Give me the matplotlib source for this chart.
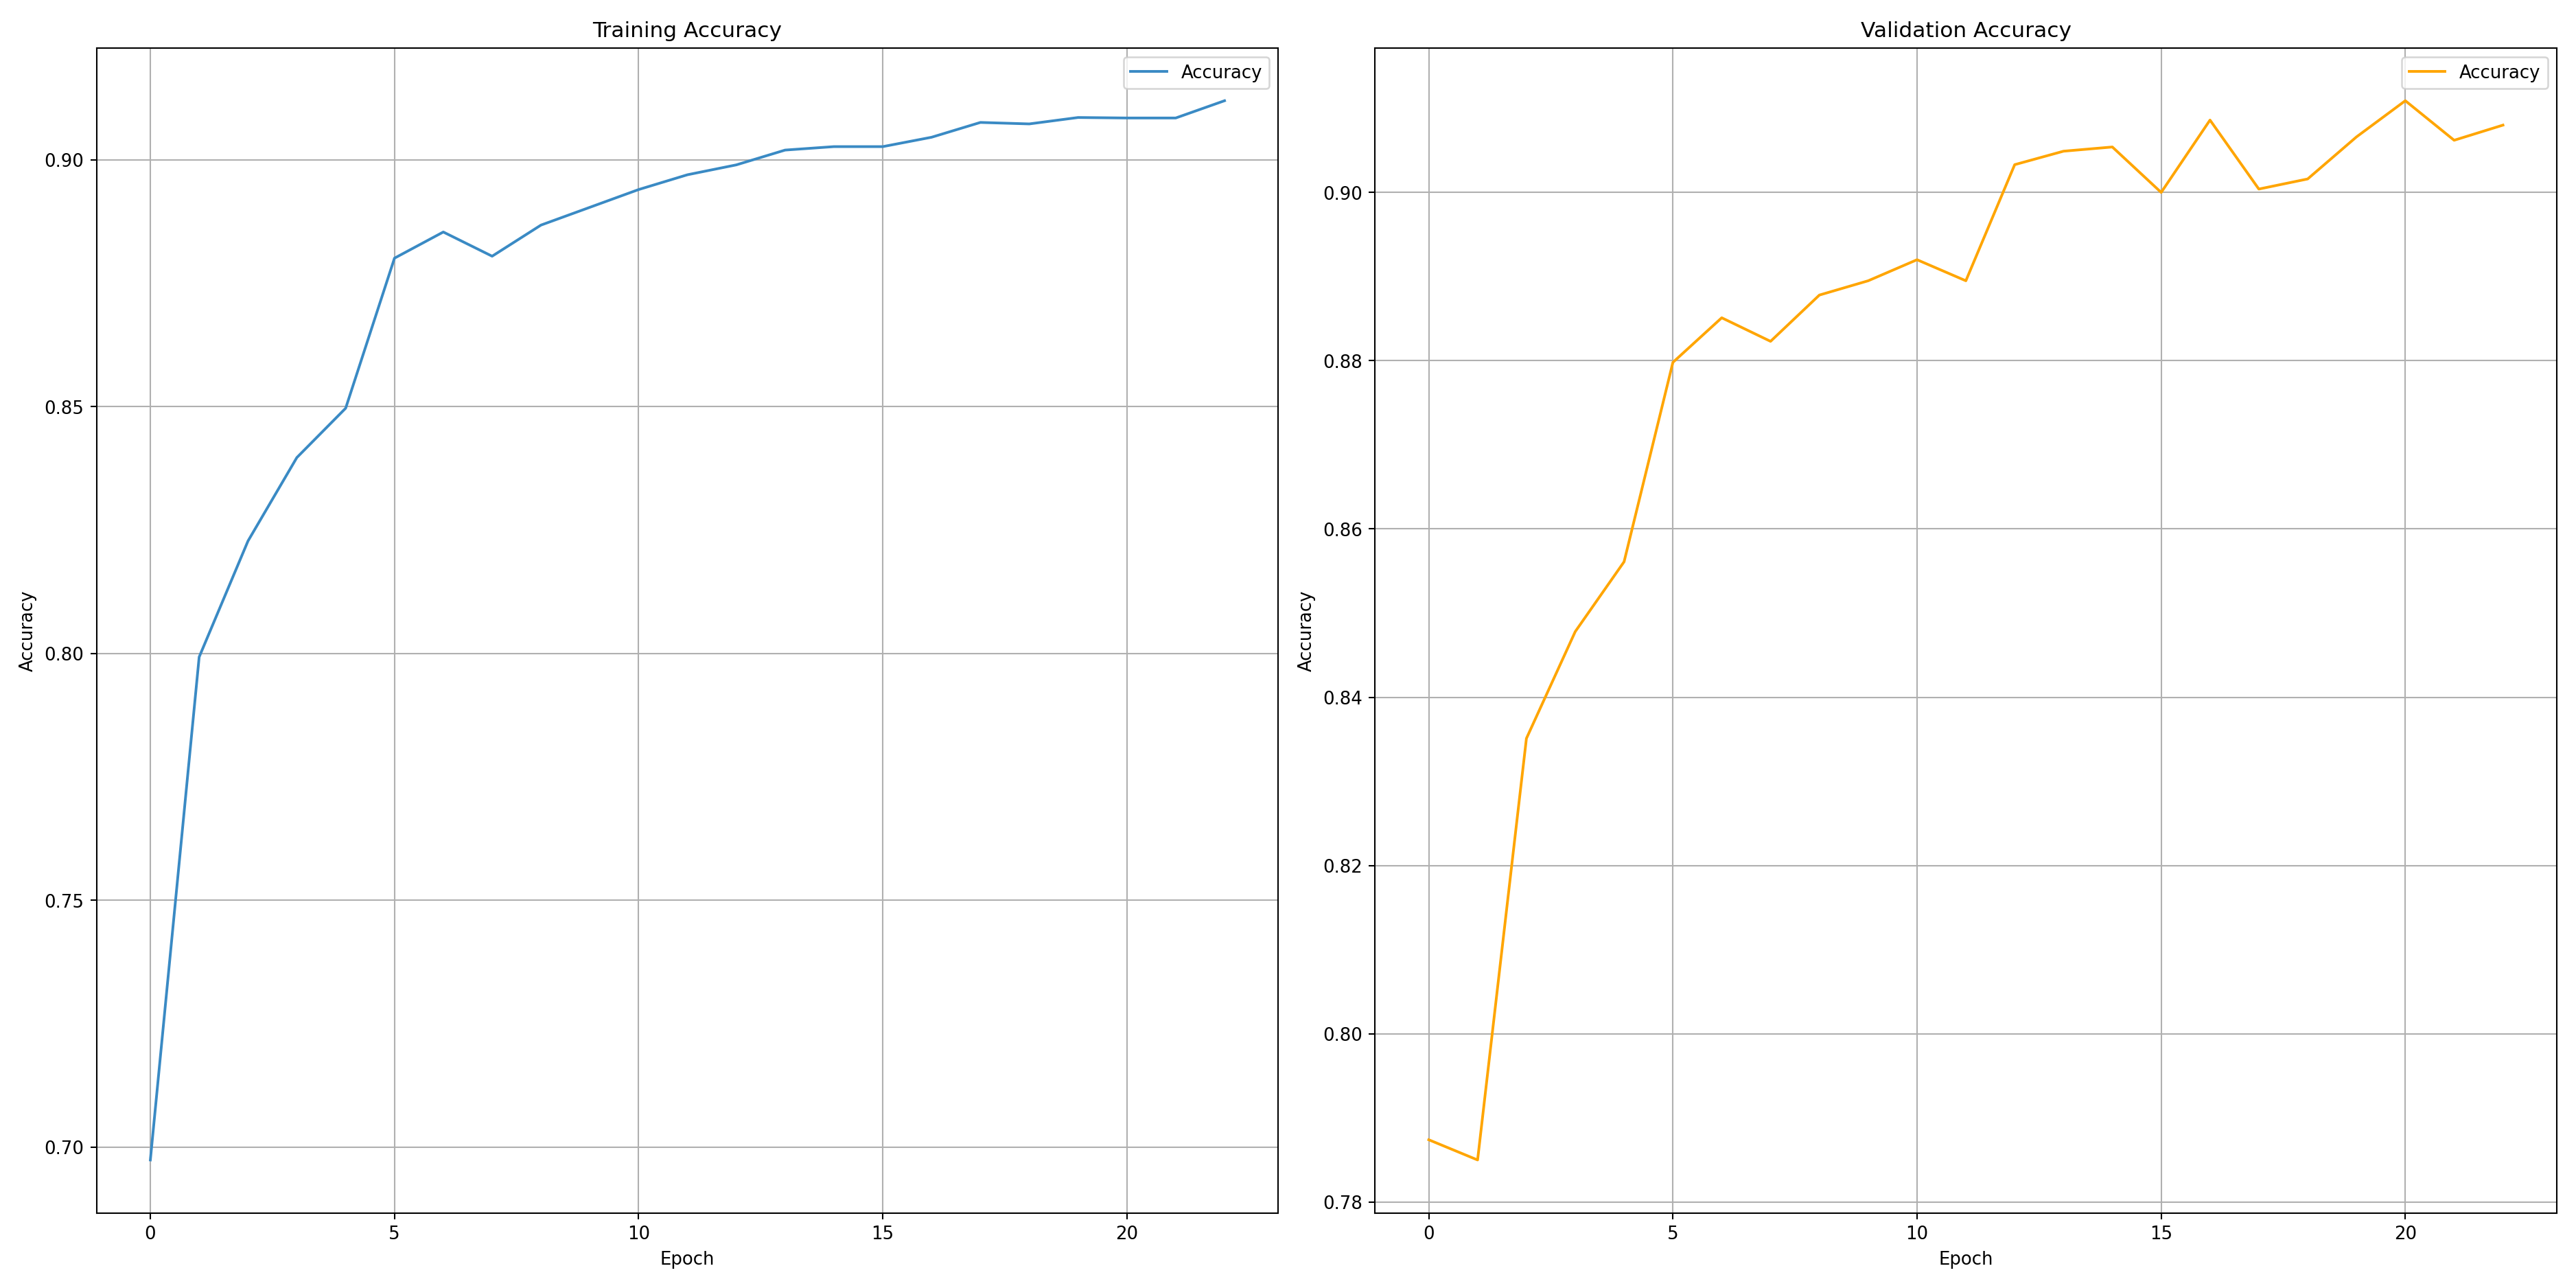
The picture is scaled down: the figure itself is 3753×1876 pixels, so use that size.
import matplotlib
matplotlib.use('Agg')
import matplotlib.pyplot as plt

epochs = list(range(23))
train_acc = [0.6974, 0.7993, 0.8228, 0.8397, 0.8497, 0.8801, 0.8854, 0.8805, 0.8868,
             0.8904, 0.8940, 0.8970, 0.8990, 0.9020, 0.9027, 0.9027, 0.9046, 0.9076,
             0.9073, 0.9086, 0.9085, 0.9085, 0.9120]
val_acc = [0.7874, 0.7850, 0.8351, 0.8478, 0.8561, 0.8798, 0.8851, 0.8823, 0.8878,
           0.8895, 0.8920, 0.8895, 0.9033, 0.9049, 0.9054, 0.9000, 0.9086, 0.9004,
           0.9016, 0.9066, 0.9109, 0.9062, 0.9080]

fig, (ax1, ax2) = plt.subplots(1, 2, figsize=(20, 10))

ax1.plot(epochs, train_acc, color='#3a8ac4', label='Accuracy')
ax1.set_title('Training Accuracy')
ax1.set_xlabel('Epoch')
ax1.set_ylabel('Accuracy')
ax1.legend(loc='upper right')
ax1.grid(True)

ax2.plot(epochs, val_acc, color='orange', label='Accuracy')
ax2.set_title('Validation Accuracy')
ax2.set_xlabel('Epoch')
ax2.set_ylabel('Accuracy')
ax2.legend(loc='upper right')
ax2.grid(True)

plt.tight_layout()
plt.savefig('out.png', dpi=187.65)
plt.close()
